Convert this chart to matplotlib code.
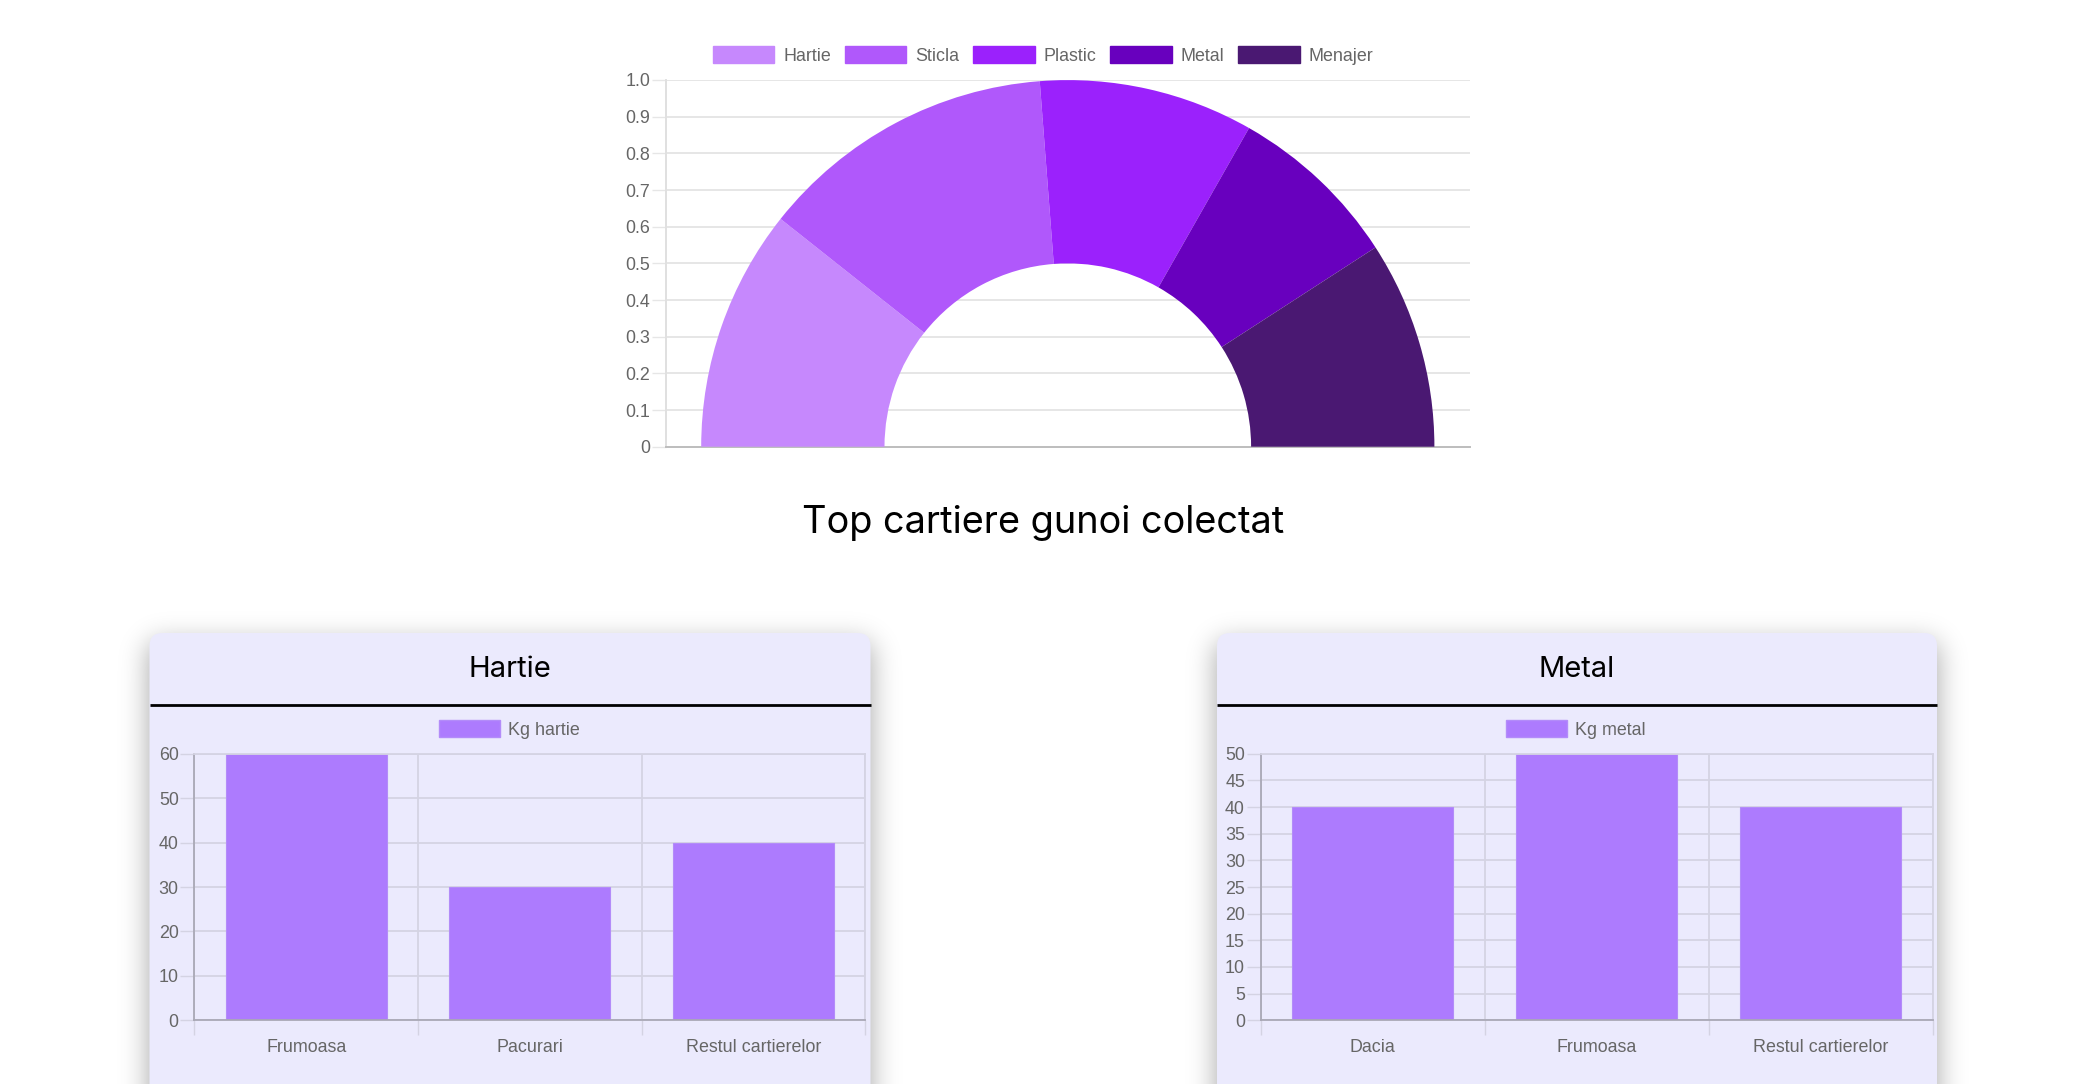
import numpy as np
import matplotlib
matplotlib.use("Agg")
import matplotlib.pyplot as plt
from matplotlib.patches import FancyBboxPatch, Patch
from matplotlib.lines import Line2D
from math import erf

W, H = 2095, 1084
DPI = 100

# data
waste_types = ["Hartie", "Sticla", "Plastic", "Metal", "Menajer"]
waste_amounts = [35, 43, 31, 25, 30]
waste_colors = ["#c688fd", "#b058fb", "#9b21fc", "#6800be", "#4a1872"]
top_ticks = [0, 0.1, 0.2, 0.3, 0.4, 0.5, 0.6, 0.7, 0.8, 0.9, 1.0]

hartie_areas = ["Frumoasa", "Pacurari", "Restul cartierelor"]
hartie_kg = [60, 30, 40]
metal_areas = ["Dacia", "Frumoasa", "Restul cartierelor"]
metal_kg = [40, 50, 40]

GRAY_TXT = "#666666"
CARD_BG = "#ebeafd"
BAR_COLOR = "#ad7bfe"
BAR_EDGE = "#b38cf9"
GRID = "#d4d3e3"
AXLINE = "#a9a8b6"
TITLE_FONT = ["Inter", "DejaVu Sans"]

plt.rcParams['font.family'] = ['Liberation Sans', 'DejaVu Sans']

fig = plt.figure(figsize=(W / DPI, H / DPI), dpi=DPI)


def px_box(x0, y0, x1, y1):
    # pixel box with top-left origin -> figure fraction rect
    return [x0 / W, 1 - y1 / H, (x1 - x0) / W, (y1 - y0) / H]


# ---- card shadows (blurred rectangles drawn as one image) ----
cards_x = [(149.5, 870.5), (1217, 1937)]
card_top = 633
sig, off, amax = 14.0, 10.0, 0.36
verf = np.vectorize(erf)
xs = np.arange(W) + 0.5
ys = np.arange(H) + 0.5
s2 = sig * np.sqrt(2)
fy = 0.5 * (1 - verf((card_top + off - ys) / s2))
alpha = np.zeros((H, W))
for x0, x1 in cards_x:
    fx = 0.5 * (verf((xs - x0) / s2) - verf((xs - x1) / s2))
    alpha = np.maximum(alpha, np.outer(fy, fx))
shadow = np.zeros((H, W, 4))
shadow[..., 3] = alpha * amax
sax = fig.add_axes([0, 0, 1, 1], zorder=-5)
sax.imshow(shadow, extent=(0, W, H, 0), interpolation="nearest", aspect="auto")
sax.set_xlim(0, W)
sax.set_ylim(H, 0)
sax.axis("off")

# ---- top half doughnut ----
ax = fig.add_axes(px_box(666, 80, 1470, 446.7))
ax.set_facecolor("none")
ax.set_xlim(0, 1)
ax.set_ylim(0, 1)
ax.set_xticks([])
ax.set_yticks(top_ticks)
ax.set_yticklabels(["0"] + ["%.1f" % t for t in top_ticks[1:]])
ax.tick_params(axis="y", length=10.3, width=1, color="#e6e6e6", pad=1,
               labelsize=12.9, labelcolor=GRAY_TXT)
ax.grid(axis="y", color="#e6e6e6", lw=1.4)
ax.spines["top"].set_visible(False)
ax.spines["right"].set_visible(False)
ax.spines["left"].set_color("#e0e0e0")
ax.spines["bottom"].set_color("#bdbdbd")
ax.spines["left"].set_linewidth(1.4)
ax.spines["bottom"].set_linewidth(1.4)

cx, cy, r = 1067.8, 446.7, 366.6
pax = fig.add_axes(px_box(cx - r, cy - r, cx + r, cy + r))
vals = waste_amounts + [sum(waste_amounts)]
cols = waste_colors + ["none"]
pax.pie(vals, colors=cols, startangle=180, counterclock=False, radius=1,
        wedgeprops=dict(width=0.5, linewidth=0))
pax.set_xlim(-1, 1)
pax.set_ylim(-1, 1)
pax.axis("off")
pax.patch.set_visible(False)

handles = [Patch(facecolor=c, edgecolor=c, label=l)
           for l, c in zip(waste_types, waste_colors)]
fig.legend(handles=handles, loc="center", bbox_to_anchor=(1043 / W, 1 - 55.7 / H),
           ncol=5, frameon=False, fontsize=12.9, handlelength=3.45, handleheight=1.06,
           handletextpad=0.5, columnspacing=0.75, labelcolor=GRAY_TXT)

fig.text(1043 / W, 1 - 533.3 / H, "Top cartiere gunoi colectat", ha="center",
         va="baseline", fontsize=27.3, family=TITLE_FONT, color="black")


# ---- cards ----
def card(x0, x1, ax0, ax1, title, areas, kg, ymax, step, label, leg_cx):
    body = FancyBboxPatch((x0 / DPI, -1), (x1 - x0) / DPI, (H - card_top) / DPI + 1,
                          boxstyle="round,pad=0,rounding_size=0.13",
                          transform=fig.dpi_scale_trans, facecolor=CARD_BG,
                          edgecolor="none", zorder=-2)
    fig.patches.append(body)
    ly = (H - 704.6) / DPI
    fig.add_artist(Line2D([x0 / DPI, x1 / DPI], [ly, ly], color="black", lw=2.0,
                          transform=fig.dpi_scale_trans, solid_capstyle="butt"))
    fig.text((x0 + x1) / 2 / W, 1 - 677.3 / H, title, ha="center", va="baseline",
             fontsize=21, family=TITLE_FONT, color="black")

    bx = fig.add_axes(px_box(ax0, 753.7, ax1, 1020.3))
    bx.set_facecolor("none")
    pos = np.arange(len(areas))
    bx.bar(pos, kg, width=0.72, color=BAR_COLOR, edgecolor=BAR_EDGE, lw=0.8, zorder=2)
    bx.set_xlim(-0.5, len(areas) - 0.5)
    bx.set_ylim(0, ymax)
    bx.set_yticks(np.arange(0, ymax + 1, step))
    bx.set_xticks(pos)
    bx.set_xticklabels(areas)
    bx.set_xticks(np.arange(-0.5, len(areas), 1), minor=True)
    bx.tick_params(axis="x", which="major", length=0, pad=13.7,
                   labelsize=12.9, labelcolor=GRAY_TXT)
    bx.tick_params(axis="x", which="minor", length=10.8, width=1, color=GRID)
    bx.tick_params(axis="y", length=10.2, width=1, color=GRID, pad=1,
                   labelsize=12.9, labelcolor=GRAY_TXT)
    bx.grid(axis="y", which="major", color=GRID, lw=1.3)
    bx.grid(axis="x", which="minor", color=GRID, lw=1.3)
    bx.set_axisbelow(True)
    for s in ["top", "right"]:
        bx.spines[s].set_color(GRID)
        bx.spines[s].set_linewidth(1.3)
    for s in ["left", "bottom"]:
        bx.spines[s].set_color(AXLINE)
        bx.spines[s].set_linewidth(1.3)

    fig.legend(handles=[Patch(facecolor=BAR_COLOR, edgecolor=BAR_EDGE, label=label)],
               loc="center", bbox_to_anchor=(leg_cx / W, 1 - 729.5 / H), frameon=False,
               fontsize=12.9, handlelength=3.4, handleheight=1.06, handletextpad=0.45,
               labelcolor=GRAY_TXT)


card(cards_x[0][0], cards_x[0][1], 194.3, 865.3, "Hartie", hartie_areas, hartie_kg,
     60, 10, "Kg hartie", 509.4)
card(cards_x[1][0], cards_x[1][1], 1260.5, 1932.5, "Metal", metal_areas, metal_kg,
     50, 5, "Kg metal", 1576)

fig.savefig("out.png", dpi=DPI, facecolor="white")
